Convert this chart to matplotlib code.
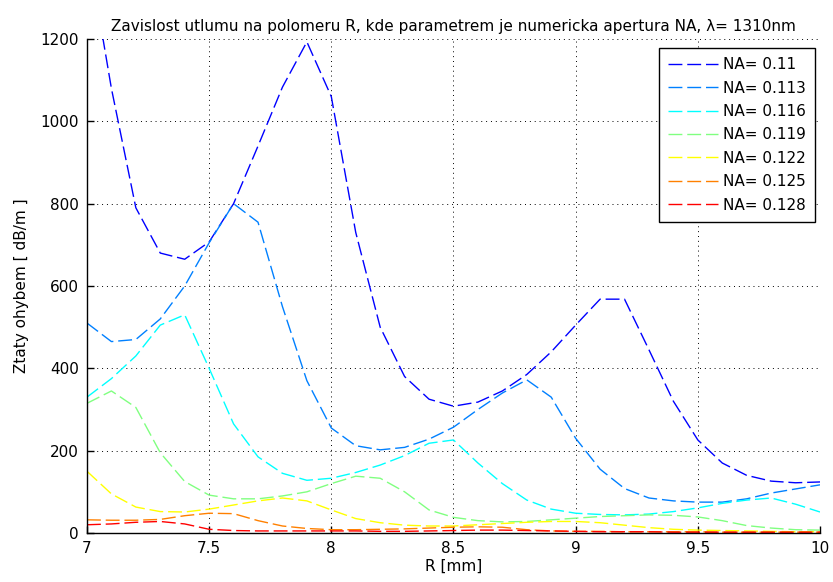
import numpy as np
import matplotlib
matplotlib.use('Agg')
import matplotlib.pyplot as plt

# R [mm], step 0.1
r = np.round(np.arange(7.0, 10.01, 0.1), 1)

na_labels = ['NA= 0.11', 'NA= 0.113', 'NA= 0.116', 'NA= 0.119',
             'NA= 0.122', 'NA= 0.125', 'NA= 0.128']

na_110 = [1430, 1080, 790, 680, 665, 707, 800, 940, 1083, 1193,
          1060, 730, 500, 380, 325, 308, 318, 345, 385, 440,
          505, 568, 568, 445, 320, 226, 170, 140, 126, 122, 124]
na_113 = [510, 465, 470, 520, 600, 705, 800, 755, 550, 370,
          255, 212, 202, 208, 228, 257, 300, 340, 372, 330,
          230, 155, 108, 85, 78, 75, 75, 83, 97, 107, 117]
na_116 = [330, 375, 430, 505, 530, 400, 265, 185, 145, 128,
          133, 147, 165, 188, 218, 226, 170, 120, 80, 58,
          48, 45, 44, 46, 52, 61, 72, 80, 85, 70, 51]
na_119 = [315, 345, 305, 195, 125, 92, 83, 83, 90, 100,
          120, 138, 133, 100, 56, 38, 30, 27, 28, 32,
          36, 40, 42, 44, 43, 39, 30, 18, 12, 8, 7]
na_122 = [150, 95, 63, 52, 51, 58, 68, 78, 85, 78,
          56, 35, 25, 19, 17, 17, 20, 23, 26, 28,
          28, 25, 19, 13, 9, 7, 6, 5, 4, 3, 3]
na_125 = [32, 31, 31, 33, 42, 48, 47, 30, 17, 11,
          8, 8, 9, 10, 12, 14, 15, 14, 8, 5,
          4, 4, 3, 3, 3, 3, 2, 2, 2, 2, 2]
na_128 = [20, 22, 26, 28, 22, 9, 6, 5, 5, 5,
          5, 5, 4, 4, 5, 6, 7, 7, 6, 5,
          4, 3, 3, 3, 2, 2, 2, 2, 2, 2, 2]

series = [na_110, na_113, na_116, na_119, na_122, na_125, na_128]
colors = ['#0000ff', '#0080ff', '#00ffff', '#80ff80', '#ffff00', '#ff8000', '#ff0000']

plt.rcParams['font.family'] = ['DejaVu Sans']
plt.rcParams['font.size'] = 11

fig = plt.figure(figsize=(8.33, 5.82), dpi=100)
ax = fig.add_axes([0.1044, 0.0842, 0.88, 0.8488])

for vals, col, lab in zip(series, colors, na_labels):
    ax.plot(r, vals, color=col, lw=1.0, ls=(0, (10, 3.5)), label=lab)

ax.set_xlim(7, 10)
ax.set_ylim(0, 1200)
ax.set_xticks(np.arange(7, 10.01, 0.5))
ax.set_xticklabels(['7', '7.5', '8', '8.5', '9', '9.5', '10'])
ax.set_yticks(np.arange(0, 1201, 200))
ax.grid(True, color='black', lw=0.7, ls=(0, (1, 4)))
ax.spines['top'].set_visible(False)
ax.spines['right'].set_visible(False)
for s in ['left', 'bottom']:
    ax.spines[s].set_linewidth(1.0)
ax.tick_params(direction='in', length=5, width=1, pad=6)

ax.set_title('Zavislost utlumu na polomeru R, kde parametrem je numericka apertura NA, λ= 1310nm',
             fontsize=11, pad=6)
ax.set_xlabel('R [mm]', labelpad=2)
ax.set_ylabel('Ztaty ohybem [ dB/m ]', labelpad=8)

leg = ax.legend(loc='upper right', bbox_to_anchor=(0.9932, 0.9818), borderaxespad=0,
                fancybox=False, framealpha=1, edgecolor='black', handlelength=3.3,
                handletextpad=0.3, labelspacing=0.55, borderpad=0.6, fontsize=11)
leg.get_frame().set_linewidth(1.0)

fig.savefig('out.png', dpi=100)
